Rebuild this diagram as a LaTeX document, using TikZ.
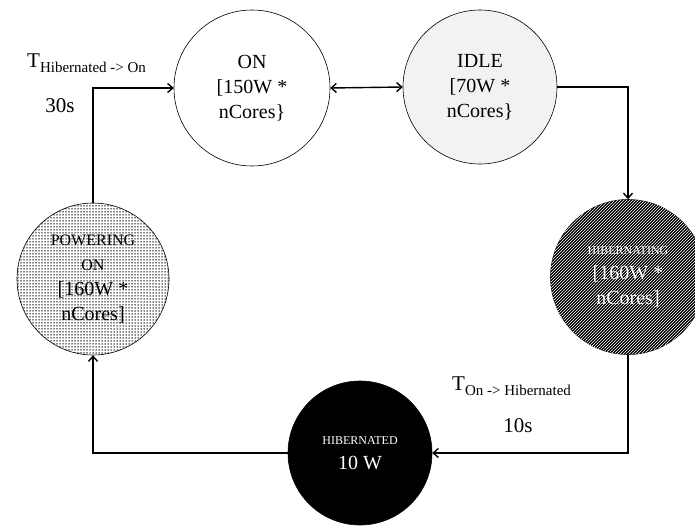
\documentclass[tikz,border=0pt]{standalone}
\usepackage{fontspec}
\setmainfont{Liberation Serif}
\usetikzlibrary{patterns,arrows.meta}
\pgfdeclarepatternformonly{finedots}{\pgfqpoint{-1pt}{-1pt}}{\pgfqpoint{1pt}{1pt}}{\pgfqpoint{3pt}{3pt}}%
  {\pgfpathcircle{\pgfqpoint{0pt}{0pt}}{0.75pt}\pgfusepath{fill}}
\begin{document}
\begin{tikzpicture}[x=1pt,y=-1pt,
  state/.style={circle, draw=black, line width=0.6pt, minimum size=#1, inner sep=0pt, align=center,
    font=\fontsize{20}{25}\selectfont},
  conn/.style={line width=1.4pt, -{Straight Barb[length=5pt,width=9pt]}},
  lbl/.style={inner sep=0pt, font=\fontsize{21}{24}\selectfont}]
\useasboundingbox (0,0) rectangle (695,527);
\clip (0,0) rectangle (695,527);
\node[state=156pt, fill=white] (on) at (252,88) {ON\\{[}150W *\\nCores\}};
\node[state=154pt, fill=black!5] (idle) at (480,87) {IDLE\\{[}70W *\\nCores\}};
\node[state=155pt, fill=black, postaction={pattern=north east lines, pattern color=white}, text=white] (hibing) at (628,277)
  {\fontsize{12}{16}\selectfont HIBERNATING\\{[}160W *\\nCores{]}};
\node[state=144pt, fill=black, text=white] (hibed) at (360,453)
  {\fontsize{12}{14}\selectfont HIBERNATED\\10 W};
\node[state=152pt, fill=white, postaction={pattern=finedots}] (pow) at (93,279)
  {\fontsize{16}{20}\selectfont POWERING\\\fontsize{16}{20}\selectfont ON\\{[}160W *\\nCores{]}};
\draw[conn] (pow.north) |- (on.west);
\draw[conn, {Straight Barb[length=5pt,width=9pt]}-{Straight Barb[length=5pt,width=9pt]}] (on.east) -- (idle.west);
\draw[conn] (idle.east) -| (hibing.north);
\draw[conn] (hibing.south) |- (hibed.east);
\draw[conn] (hibed.west) -| (pow.south);
\node[lbl, anchor=base west] (t1) at (27,67) {T\raisebox{-5pt}{\fontsize{15}{16}\selectfont Hibernated -> On}};
\node[lbl, anchor=base] (d1) at (60,112) {30s};
\node[lbl, anchor=base west] (t2) at (452,390) {T\raisebox{-5pt}{\fontsize{15}{16}\selectfont On -> Hibernated}};
\node[lbl, anchor=base] (d2) at (518,432) {10s};
\end{tikzpicture}
\end{document}
